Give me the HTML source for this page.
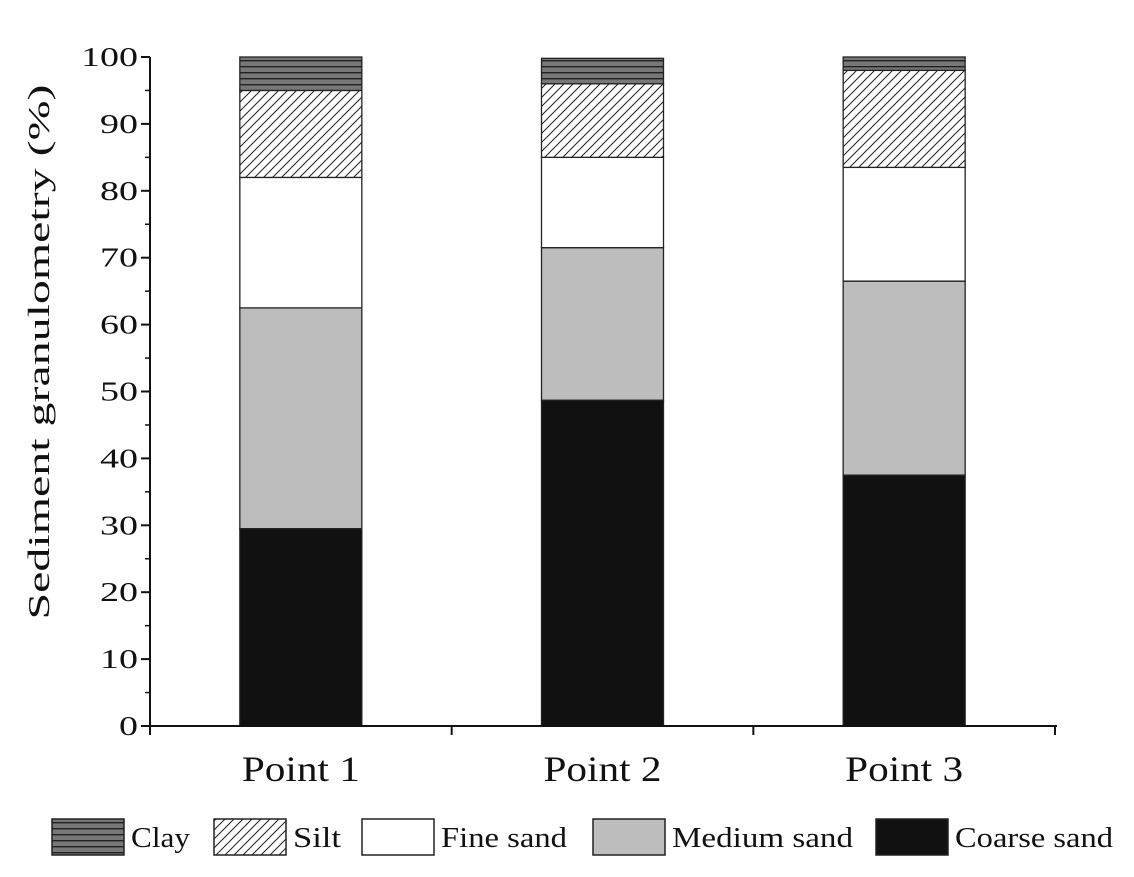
<!DOCTYPE html>
<html><head><meta charset="utf-8"><style>
body{margin:0;background:#fff}
svg text{font-family:"Liberation Serif",serif;fill:#111}
</style></head><body>
<svg id="c" width="1134" height="872">
<defs>
<pattern id="clayP" width="8" height="6" patternUnits="userSpaceOnUse"><rect width="8" height="6" fill="#777"/><rect y="0" width="8" height="1.4" fill="#222"/></pattern>
<pattern id="siltP" width="9" height="9" patternUnits="userSpaceOnUse"><rect width="9" height="9" fill="#fff"/><path d="M-1,10 L10,-1 M-2,2 L2,-2 M7,11 L11,7" stroke="#222" stroke-width="1"/></pattern>
</defs>
</svg>
<script>
const categories=["Point 1","Point 2","Point 3"];
const seriesNames=["Coarse sand","Medium sand","Fine sand","Silt","Clay"];
const coarse=[29.5,48.7,37.5];
const medium=[33,22.8,29];
const fine=[19.5,13.5,17];
const silt=[13,11,14.5];
const clay=[5,3.8,2];
const yTicks=[0,10,20,30,40,50,60,70,80,90,100];
const fills=["#111","#bdbdbd","#fff","url(#siltP)","url(#clayP)"];
const svg=document.getElementById('c');const NS="http://www.w3.org/2000/svg";
function mk(t,a,p){const e=document.createElementNS(NS,t);for(const k in a)e.setAttribute(k,a[k]);(p||svg).appendChild(e);return e;}
const x0=150,x1=1055,y0=726,y100=57;
const Y=v=>y0-(v/100)*(y0-y100);
const step=(x1-x0)/categories.length;
const X=i=>x0+step*(i+0.5);
const bw=122;
const series=[coarse,medium,fine,silt,clay];
categories.forEach((c,i)=>{let base=0;
 series.forEach((s,j)=>{const r=mk('rect',{x:X(i)-bw/2,y:Y(base+s[i]),width:bw,height:Y(base)-Y(base+s[i]),fill:fills[j],stroke:"#222","stroke-width":1.3});
 
 
 base+=s[i];});
 const t=mk('text',{x:X(i),y:781,"text-anchor":"middle","font-size":36,textLength:118,lengthAdjust:"spacingAndGlyphs"});t.textContent=c;
 
 
});
const ax=mk('line',{x1:x0,y1:Y(100),x2:x0,y2:y0+6,stroke:"#111","stroke-width":2});

const bx=mk('line',{x1:x0-6,y1:y0,x2:x1+2,y2:y0,stroke:"#111","stroke-width":2});

for(let i=0;i<=categories.length;i++){mk('line',{x1:x0+step*i,y1:y0,x2:x0+step*i,y2:y0+9,stroke:"#111","stroke-width":2});}
yTicks.forEach(v=>{mk('line',{x1:x0-9,y1:Y(v),x2:x0,y2:Y(v),stroke:"#111","stroke-width":2});
 if(v<100)mk('line',{x1:x0-5,y1:Y(v+5),x2:x0,y2:Y(v+5),stroke:"#111","stroke-width":1.5});
 const len=String(v).length*19;
 const t=mk('text',{x:x0-12,y:Y(v)+9,"text-anchor":"end","font-size":27,textLength:len,lengthAdjust:"spacingAndGlyphs"});t.textContent=v;
 });
const yt=mk('text',{x:0,y:0,"text-anchor":"middle","font-size":31,textLength:535,lengthAdjust:"spacingAndGlyphs",transform:"translate(49,352) rotate(-90)"});
yt.textContent="Sediment granulometry (%)";

const leg=[["Clay",52,4,59],["Silt",214,3,48],["Fine sand",362,2,126],["Medium sand",593,1,181],["Coarse sand",876,0,158]];
leg.forEach(l=>{const g=mk('g',{});
 
 
 mk('rect',{x:l[1],y:819,width:72,height:36,fill:fills[l[2]],stroke:"#222","stroke-width":1.5},g);
 const t=mk('text',{x:l[1]+79,y:847,"font-size":29,textLength:l[3],lengthAdjust:"spacingAndGlyphs"},g);t.textContent=l[0];});
</script>
</body></html>
